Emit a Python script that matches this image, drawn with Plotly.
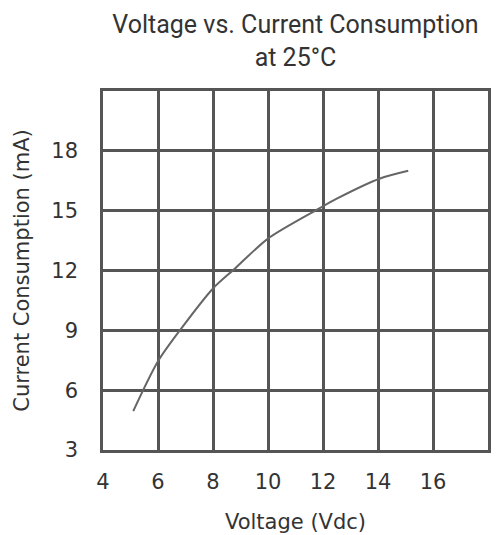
import plotly.graph_objects as go

voltage = [5.1, 6.0, 6.85, 8.0, 8.8, 10.0, 11.85, 12.5, 14.05, 15.1]
current = [4.95, 7.45, 9.1, 11.1, 12.1, 13.6, 15.1, 15.6, 16.6, 17.0]

x_ticks = [4, 6, 8, 10, 12, 14, 16]
y_ticks = [3, 6, 9, 12, 15, 18]

grid_color = "#555555"
text_color = "#333333"

fig = go.Figure()
fig.add_trace(go.Scatter(
    x=voltage, y=current, mode="lines",
    line=dict(color="#666666", width=2, shape="spline", smoothing=0.8),
    showlegend=False, hoverinfo="skip",
))

fig.update_layout(
    width=500, height=535,
    margin=dict(l=95, r=20, t=83, b=93),
    paper_bgcolor="white", plot_bgcolor="white",
    title=dict(
        text="Voltage vs. Current Consumption<br>at 25°C",
        x=0.5, xref="paper", xanchor="center",
        y=0.953, yref="container", yanchor="middle",
        font=dict(family="Roboto", size=25, color=text_color),
    ),
    xaxis=dict(
        range=[4, 18], tickvals=x_ticks, ticktext=[str(v) for v in x_ticks],
        showgrid=True, gridcolor=grid_color, gridwidth=2.5,
        showline=True, linecolor=grid_color, linewidth=2.5, mirror=True,
        zeroline=False, ticks="", ticklabelstandoff=11,
        tickfont=dict(family="DejaVu Sans", size=21, color=text_color),
        title=dict(text="Voltage (Vdc)", standoff=22,
                   font=dict(family="DejaVu Sans", size=21, color=text_color)),
    ),
    yaxis=dict(
        range=[3, 21], tickvals=y_ticks, ticktext=[str(v) for v in y_ticks],
        showgrid=True, gridcolor=grid_color, gridwidth=2.5,
        showline=True, linecolor=grid_color, linewidth=2.5, mirror=True,
        zeroline=False, ticks="", ticklabelstandoff=18,
        tickfont=dict(family="DejaVu Sans", size=21, color=text_color),
        title=dict(text="Current Consumption (mA)", standoff=16,
                   font=dict(family="DejaVu Sans", size=21, color=text_color)),
    ),
)

fig.write_html("out.html")
